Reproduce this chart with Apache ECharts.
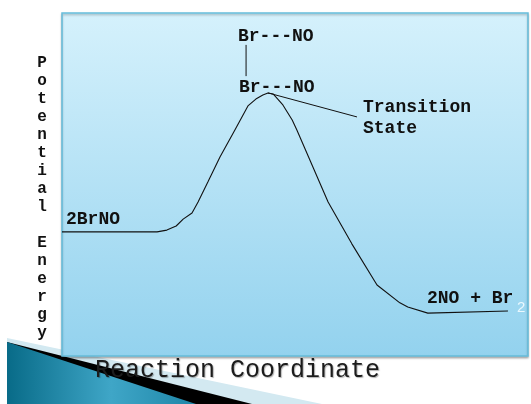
<!DOCTYPE html>
<html>
<head>
<meta charset="utf-8">
<script src="https://cdn.jsdelivr.net/npm/echarts@6/dist/echarts.min.js"></script>
<style>html,body{margin:0;padding:0;background:#fff}#c{width:531px;height:404px}</style>
</head>
<body>
<div id="c"></div>
<script>
// Reaction coordinate (0-100) and potential energy (0-100)
const coordX = [0, 20.4, 22.5, 24.5, 26.0, 27.9, 29.2, 31.3, 33.9, 37.1, 39.9, 41.6, 43.1, 44.2, 45.3, 47.4, 49.4, 50.4, 57.1, 62.2, 67.6, 72.5, 74.2, 78.5, 95.7];
const energyY = [36.2, 36.2, 36.7, 37.9, 39.9, 41.7, 44.9, 50.7, 58.0, 65.9, 72.9, 74.9, 76.1, 76.7, 76.4, 73.2, 68.8, 65.9, 44.9, 32.7, 20.7, 15.5, 14.3, 12.5, 13.1];
// annotation connector lines
const pointerX = [44.2, 63.3];
const pointerY = [76.7, 69.7];
const connectorX = [39.5, 39.5];
const connectorY = [90.7, 81.6];
// texts
const yTitle = 'Potential Energy';
const xTitle = 'Reaction Coordinate';
const labelReactant = '2BrNO';
const labelProduct = '2NO + Br';
const labelProductSub = '2';
const labelComplex = 'Br---NO';
const labelTS = ['Transition', 'State'];

const curve = coordX.map((x, i) => [x, energyY[i]]);
const pointer = pointerX.map((x, i) => [x, pointerY[i]]);
const connector = connectorX.map((x, i) => [x, connectorY[i]]);

const mono = '"Liberation Mono", "DejaVu Sans Mono", monospace';
const lblFont = 'bold 18px ' + mono;

function txt(text, x, y, extra) {
  return Object.assign({
    type: 'text', z: 50,
    style: { text: text, x: x, y: y, font: lblFont, fill: '#111', align: 'left', verticalAlign: 'middle' }
  }, extra || {});
}

const chart = echarts.init(document.getElementById('c'), null, { renderer: 'canvas' });
chart.setOption({
  animation: false,
  grid: { left: 62, top: 13, width: 466, height: 343, show: false },
  xAxis: { type: 'value', min: 0, max: 100, show: false },
  yAxis: { type: 'value', min: 0, max: 100, show: false },
  graphic: [
    // decorative corner wedge
    { type: 'polygon', z: 1, shape: { points: [[7, 338], [322, 404], [7, 404]] }, style: { fill: '#d3e9f1' } },
    { type: 'polygon', z: 2, shape: { points: [[7, 342], [252, 404], [7, 404]] }, style: { fill: '#000' } },
    { type: 'polygon', z: 3, shape: { points: [[7, 342], [196, 404], [7, 404]] },
      style: { fill: { type: 'linear', x: 0, y: 0, x2: 1, y2: 0, colorStops: [
        { offset: 0, color: '#086b88' }, { offset: 0.55, color: '#3fa6c7' }, { offset: 1, color: '#1e86a8' }] } } },
    // plot panel
    { type: 'rect', z: 5, shape: { x: 62, y: 13, width: 466, height: 343 },
      style: { fill: { type: 'linear', x: 0, y: 0, x2: 0, y2: 1, colorStops: [
        { offset: 0, color: '#d5f1fc' }, { offset: 1, color: '#93d2ee' }] },
        stroke: '#66bddb', lineWidth: 1.5, shadowColor: 'rgba(0,0,0,0.25)', shadowBlur: 2, shadowOffsetY: 1.5 } },
    // labels
    txt(labelComplex, 238, 36),
    txt(labelComplex, 239, 87),
    txt(labelTS[0], 363, 107.5),
    txt(labelTS[1], 363, 128.5),
    txt(labelReactant, 66, 219.5),
    txt(labelProduct, 427, 298),
    { type: 'text', z: 50, style: { text: labelProductSub, x: 517, y: 307.5, font: '15px "Liberation Sans", Arial, sans-serif', fill: '#eaf8fe', align: 'left', verticalAlign: 'middle' } },
    { type: 'text', z: 50, style: { text: xTitle, x: 95, y: 370, font: '25px ' + mono, fill: '#1c1c1c', align: 'left', verticalAlign: 'middle',
      textShadowColor: 'rgba(0,0,0,0.3)', textShadowBlur: 1, textShadowOffsetX: 1, textShadowOffsetY: 1 } },
    { type: 'text', z: 50, style: { text: yTitle.split('').join('\n'), x: 42, y: 54, font: 'bold 16px ' + mono, lineHeight: 18, fill: '#111', align: 'center', verticalAlign: 'top' } }
  ],
  series: [
    { type: 'line', data: curve, z: 10, symbol: 'none', smooth: false, lineStyle: { color: '#111', width: 1.1 } },
    { type: 'line', data: pointer, z: 10, symbol: 'none', lineStyle: { color: '#111', width: 1 } },
    { type: 'line', data: connector, z: 10, symbol: 'none', lineStyle: { color: '#111', width: 1 } }
  ]
});
</script>
</body>
</html>
